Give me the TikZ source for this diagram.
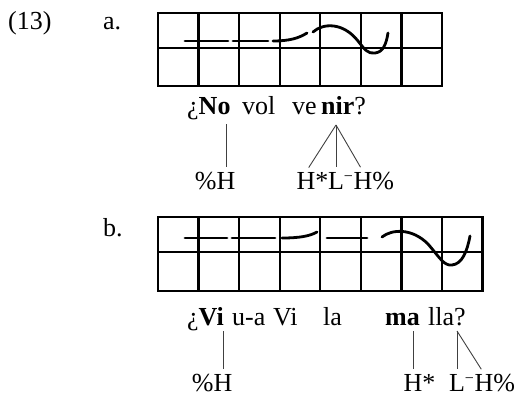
\documentclass[tikz,border=0pt]{standalone}
\usepackage{fontspec}
\setmainfont{Liberation Serif}
\newcommand{\dn}{\raisebox{0.6ex}{\fontsize{16}{16}\selectfont −}}

\begin{document}
\begin{tikzpicture}[x=1pt,y=-1pt,
    every node/.style={inner sep=0pt, font=\fontsize{26}{30}\selectfont},
    tone/.style={anchor=base},
    gridline/.style={line width=2.4pt},
    contour/.style={line width=2.8pt, line cap=round},
    assoc/.style={line width=0.9pt, black!75, shorten >=5pt}]
        \useasboundingbox (0,0) rectangle (525,396);
        \def\cell{40.57}

        % numbering
        \node[anchor=base west] (exnum) at (8,30) {(13)};
        \node[anchor=base west] (laba) at (103,30) {a.};
        \node[anchor=base west] (labb) at (103,236) {b.};

        % grid a: 7 cells
        \foreach \i in {0,...,7} \draw[gridline] (158+\i*\cell,13) -- (158+\i*\cell,86);
        \foreach \y in {13,48,86} \draw[gridline, line cap=rect] (158,\y) -- (442,\y);

        % grid b: 8 cells
        \foreach \i in {0,...,8} \draw[gridline] (158+\i*\cell,217) -- (158+\i*\cell,291);
        \foreach \y in {217,252,291} \draw[gridline, line cap=rect] (158,\y) -- (483,\y);

        % contour a
        \draw[contour] (185,41) -- (228,41);
        \draw[contour] (233,41) -- (268,41);
        \draw[contour] (273,41) .. controls (290,41) and (299,38) .. (307,33);
        \draw[contour] (313,32) .. controls (323,23) and (343,22) .. (358,41)
            .. controls (365,50) and (368,54) .. (375,53)
            .. controls (383,52) and (386,45) .. (388,33);

        % contour b
        \draw[contour] (185,238) -- (227,238);
        \draw[contour] (232,238) -- (275,238);
        \draw[contour] (282,238) .. controls (300,238) and (310,236) .. (317,232);
        \draw[contour] (327,238) -- (367,238);
        \draw[contour] (382,237) .. controls (392,229) and (412,228) .. (428,244)
            .. controls (440,258) and (444,266) .. (452,265)
            .. controls (462,264) and (467,252) .. (470,236);

        % sentence a
        \node[anchor=base west] (noA) at (187,114) {¿\textbf{No}};
        \node[anchor=base west] (volA) at (242,114) {vol};
        \node[anchor=base west] (veA) at (292,114) {ve};
        \node[anchor=base west] (nirA) at (321,114) {\textbf{nir}?};

        % tones a
        \node[tone] (pctHa) at (226,189) {\llap{\%}H};
        \node[tone] (hstarA) at (306,189) {H\rlap{*}};
        \node[tone] (lminA) at (336,189) {L\rlap{\dn}};
        \node[tone] (hpctA) at (363,189) {H\rlap{\%}};
        \coordinate (noTop) at (226,124);
        \coordinate (nirTop) at (336,125);
        \draw[assoc] (noTop) -- (pctHa.north);
        \draw[assoc] (nirTop) -- (hstarA.north);
        \draw[assoc] (nirTop) -- (lminA.north);
        \draw[assoc] (nirTop) -- (hpctA.north);

        % sentence b
        \node[anchor=base west] (viB) at (187,325) {¿\textbf{Vi}};
        \node[anchor=base west] (uaB) at (232,325) {u-a};
        \node[anchor=base west] (vi2B) at (273,325) {Vi};
        \node[anchor=base west] (laB) at (323,325) {la};
        \node[anchor=base west] (maB) at (385,325) {\textbf{ma}};
        \node[anchor=base west] (llaB) at (428,325) {lla?};

        % tones b
        \node[tone] (pctHb) at (223,391) {\llap{\%}H};
        \node[tone] (hstarB) at (413,391) {H\rlap{*}};
        \node[tone] (lminB) at (457,391) {L\rlap{\dn}};
        \node[tone] (hpctB) at (484,391) {H\rlap{\%}};
        \coordinate (viTop) at (223,331);
        \coordinate (maTop) at (413,331);
        \coordinate (llaTop) at (457,331);
        \draw[assoc] (viTop) -- (pctHb.north);
        \draw[assoc] (maTop) -- (hstarB.north);
        \draw[assoc] (llaTop) -- (lminB.north);
        \draw[assoc] (llaTop) -- (hpctB.north);
\end{tikzpicture}
\end{document}
